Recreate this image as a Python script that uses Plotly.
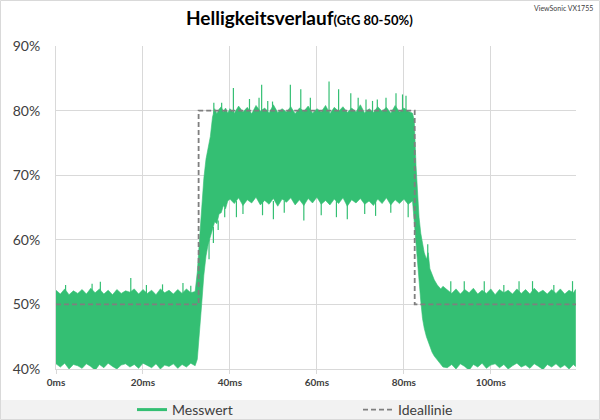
import plotly.graph_objects as go

# ---- data (time in ms, brightness in %) ----
# envelope of the dense measured signal
t_ms = (list(range(0, 33)) +
        [32.5, 33.0, 33.5, 34.0, 34.5, 35.0, 35.5, 36.0, 36.5, 37.0, 37.5, 38.0, 38.5, 39.0, 39.5] +
        list(range(40, 83)) +
        [82.4, 82.8, 83.1, 83.5, 83.9, 84.3, 84.7, 85.2, 85.6, 86.0, 86.5, 87.0, 87.7, 88.5, 89.0] +
        list(range(90, 120)) + [119.5])

mess_hi = ([52.2, 51.6, 52.4, 51.5, 52.1, 51.7, 52.3, 51.6, 52.5, 51.8,
            52.4, 51.6, 52.2, 51.5, 52.3, 51.7, 52.1, 51.9, 52.4, 51.6,
            52.3, 51.7, 52.2, 51.5, 52.4, 51.8, 52.2, 51.6, 52.3, 51.7,
            52.4, 51.8, 52.0] +
           [55.0, 60.0, 65.5, 69.5, 72.5, 74.3, 76.0, 79.0, 80.3, 79.5, 80.2, 80.6, 79.8, 80.4, 79.6] +
           [80.3, 79.6, 80.7, 79.8, 80.5, 79.5, 80.8, 79.9, 80.4, 79.6,
            80.9, 79.7, 80.3, 79.8, 80.6, 79.5, 80.4, 79.9, 80.7, 79.6,
            80.3, 79.8, 80.8, 79.5, 80.5, 79.9, 80.6, 79.7, 80.4, 79.8,
            80.9, 79.6, 80.3, 79.7, 80.6, 79.9, 80.5, 79.6, 80.8, 79.8,
            80.4, 79.9, 79.6] +
           [78.5, 71.5, 67.0, 63.5, 61.0, 59.5, 58.0, 57.0, 58.0, 55.5, 54.5, 53.8, 53.0, 52.4, 52.8] +
           [52.2, 51.7, 52.4, 51.6, 52.3, 51.8, 52.5, 51.6, 52.2, 51.7,
            52.4, 51.5, 52.3, 51.8, 52.2, 51.6, 52.4, 51.7, 52.3, 51.6,
            52.5, 51.8, 52.2, 51.6, 52.3, 51.7, 52.4, 51.6, 52.2, 51.8,
            52.3])

mess_lo = ([40.8, 40.3, 40.9, 40.0, 40.7, 40.5, 40.1, 40.8, 40.4, 39.8,
            40.7, 40.2, 40.9, 40.4, 40.0, 40.6, 40.8, 40.3, 40.7, 40.1,
            40.9, 40.5, 40.2, 40.8, 40.0, 40.6, 40.4, 40.8, 40.1, 40.7,
            40.3, 40.9, 40.5] +
           [41.5, 45.0, 50.0, 54.5, 57.5, 59.3, 60.5, 61.5, 62.8, 62.5, 64.0, 64.2, 65.3, 64.8, 66.0] +
           [66.3, 65.6, 66.5, 65.3, 66.2, 65.7, 66.6, 65.4, 66.1, 65.5,
            66.4, 65.2, 66.3, 65.8, 66.5, 65.4, 66.2, 65.3, 66.4, 65.7,
            66.6, 65.5, 66.1, 65.4, 66.3, 65.6, 66.5, 65.2, 66.2, 65.7,
            66.4, 65.5, 66.0, 65.3, 66.3, 65.6, 66.5, 65.4, 66.2, 65.6,
            66.3, 65.5, 66.0] +
           [64.0, 60.5, 57.5, 54.0, 50.5, 47.8, 46.3, 45.0, 44.5, 43.5, 42.6, 42.0, 41.3, 40.7, 40.3] +
           [40.2, 40.7, 40.0, 40.8, 40.4, 39.8, 40.7, 40.3, 40.9, 40.1,
            40.6, 40.8, 40.2, 40.7, 40.0, 40.5, 40.9, 40.3, 40.6, 40.1,
            40.8, 40.4, 39.9, 40.7, 40.3, 40.8, 40.2, 40.6, 40.0, 40.7,
            40.4])

# isolated thin peaks of the signal (time, from, to)
peak_t = [2.2, 8.3, 10.2, 17.2, 20.8, 24.5, 29.2, 31.0,
          36.3, 38.1, 40.8, 44.5, 46.7, 47.3, 48.7, 49.8, 53.9, 56.3, 58.5, 62.8, 65.0,
          67.8, 69.5, 71.3, 72.8, 73.9, 75.9, 78.2, 79.7, 80.5, 85.5,
          90.8, 93.9, 98.5, 103.0, 106.5, 109.6, 114.5, 118.8]
peak_from = [51.5] * 8 + [79.5] * 22 + [56.0] + [51.5] * 8
peak_to = [53.0, 53.2, 53.5, 54.1, 53.0, 53.1, 53.3, 52.9,
           81.2, 81.2, 83.5, 81.8, 82.0, 84.0, 81.5, 81.4, 84.0, 83.3, 82.0, 84.5, 83.3,
           82.7, 82.0, 81.7, 81.5, 81.7, 82.0, 82.7, 82.5, 82.3, 59.3,
           53.6, 53.6, 53.6, 53.0, 53.6, 53.6, 53.0, 53.6]

# isolated thin dips of the signal (time, from, to)
dip_t = [35.2, 36.2, 37.3, 38.8, 41.5, 43.0, 47.5, 50.0, 52.5, 57.0, 61.0, 64.5, 67.0,
         71.0, 73.5, 77.0, 81.0]
dip_from = [60.0, 62.0, 63.0, 65.0] + [66.0] * 13
dip_to = [57.0, 59.5, 61.5, 63.5, 63.5, 64.0, 63.8, 63.2, 64.2, 63.0, 63.8, 63.5, 63.2,
          64.0, 63.7, 64.2, 63.5]

ideal_t = [0, 32.8, 32.8, 82.5, 82.5, 119.6]
ideal_v = [50, 50, 80, 80, 50, 50]

x_ticks = [0, 20, 40, 60, 80, 100]
y_ticks = [40, 50, 60, 70, 80, 90]

GREEN = "#34bf73"
FONT = "Lato"

fig = go.Figure()

# measured band (envelope of the dense measurement trace)
fig.add_trace(go.Scatter(
    x=t_ms + t_ms[::-1], y=mess_hi + mess_lo[::-1],
    fill="toself", fillcolor=GREEN, mode="lines",
    line=dict(color=GREEN, width=0.6), showlegend=False, hoverinfo="skip"))

# thin peaks and dips
sx, sy = [], []
for t, a, b in list(zip(peak_t, peak_from, peak_to)) + list(zip(dip_t, dip_from, dip_to)):
    sx += [t, t, None]
    sy += [a, b, None]
fig.add_trace(go.Scatter(x=sx, y=sy, mode="lines", line=dict(color=GREEN, width=1.2),
                         showlegend=False, hoverinfo="skip"))

fig.add_trace(go.Scatter(x=[None], y=[None], mode="lines", name="Messwert",
                         line=dict(color=GREEN, width=3), legend="legend"))

fig.add_trace(go.Scatter(x=ideal_t, y=ideal_v, mode="lines", name="Ideallinie",
                         line=dict(color="#7f7f7f", width=1.8, dash="5px,3px"),
                         legend="legend2"))

L, R, T, B = 56, 24, 46, 51
W, H = 600, 420
pw, ph = W - L - R, H - T - B

def px(x):
    return (x - L) / pw

def py(y):
    return (H - B - y) / ph

fig.update_layout(
    width=W, height=H,
    margin=dict(l=L, r=R, t=T, b=B, autoexpand=False),
    paper_bgcolor="white", plot_bgcolor="white",
    font=dict(family=FONT, color="#404040"),
    xaxis=dict(range=[0, 119.6], tickvals=x_ticks, ticktext=[f"{v}ms" for v in x_ticks],
               showgrid=True, gridcolor="#d9d9d9", gridwidth=1, zeroline=False,
               showline=True, linecolor="#d9d9d9", linewidth=1,
               ticks="outside", ticklen=4, tickcolor="#d9d9d9",
               tickfont=dict(size=10, family=FONT, color="#404040", weight="bold")),
    yaxis=dict(range=[40, 90], tickvals=y_ticks, ticktext=[f"{v}%" for v in y_ticks],
               showgrid=True, gridcolor="#d9d9d9", gridwidth=1, zeroline=False,
               showline=True, linecolor="#d9d9d9", linewidth=1,
               ticks="", ticklabelstandoff=12,
               tickfont=dict(size=14, family=FONT, color="#404040")),
    legend=dict(orientation="h", x=px(132), xanchor="left", y=py(410), yanchor="middle",
                bgcolor="rgba(0,0,0,0)", font=dict(size=14, family=FONT, color="#404040"),
                itemwidth=30),
    legend2=dict(orientation="h", x=px(358), xanchor="left", y=py(410), yanchor="middle",
                 bgcolor="rgba(0,0,0,0)", font=dict(size=14, family=FONT, color="#404040"),
                 itemwidth=30),
    shapes=[
        dict(type="rect", xref="paper", yref="paper", layer="below",
             x0=px(1), x1=px(599), y0=py(400), y1=py(419),
             fillcolor="#f2f2f2", line=dict(width=0)),
        dict(type="rect", xref="paper", yref="paper", layer="below",
             x0=px(0.5), x1=px(599.5), y0=py(0.5), y1=py(419.5),
             fillcolor="rgba(0,0,0,0)", line=dict(color="#d9d9d9", width=1)),
    ],
    annotations=[
        dict(xref="paper", yref="paper", x=px(299), y=py(17), xanchor="center", yanchor="middle",
             showarrow=False,
             text="<b>Helligkeitsverlauf</b><b><span style='font-size:13px'>(GtG 80-50%)</span></b>",
             font=dict(size=19, family=FONT, color="#000000")),
        dict(xref="paper", yref="paper", x=px(595), y=py(8), xanchor="right", yanchor="middle",
             showarrow=False, text="ViewSonic VX1755",
             font=dict(size=7, family=FONT, color="#404040")),
    ],
)

fig.write_html("out.html", config={"displayModeBar": False},
               post_script="document.body.style.margin='0';document.body.style.overflow='hidden';")
